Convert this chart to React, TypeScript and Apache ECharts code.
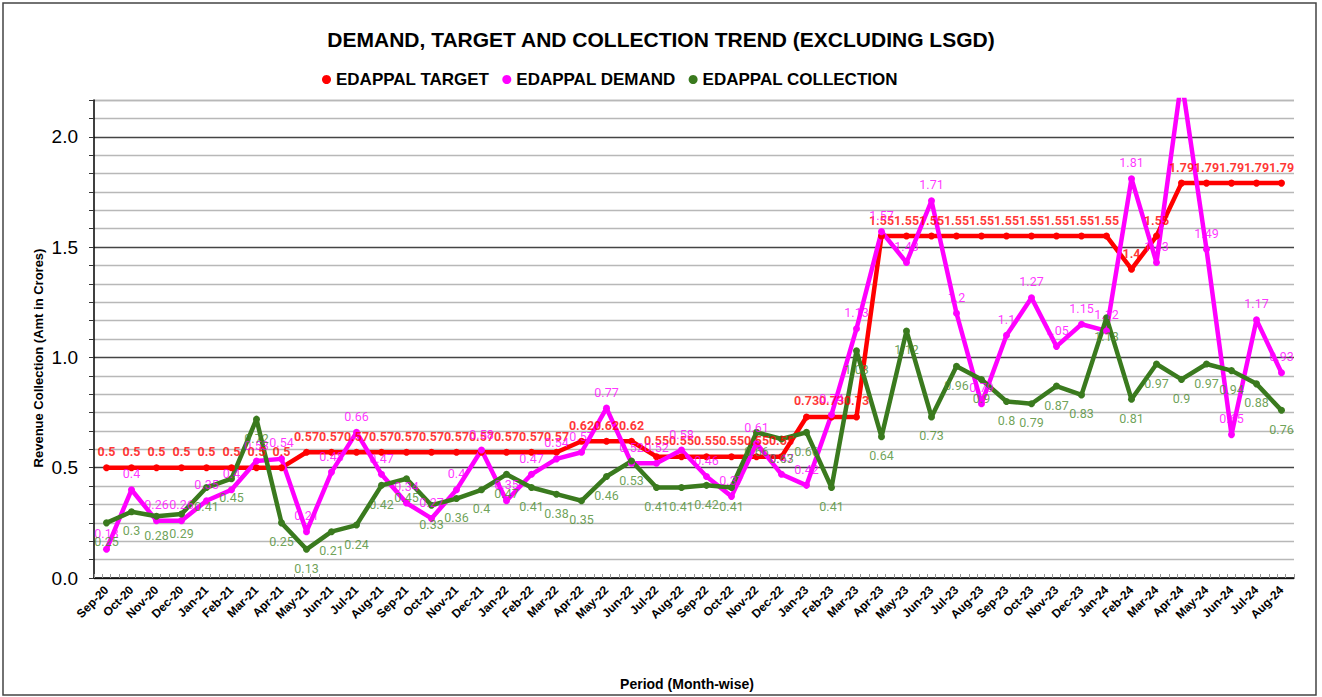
import React, { useEffect, useRef } from "react";
import * as echarts from "echarts";

const categories = [
  "Sep-20", "Oct-20", "Nov-20", "Dec-20", "Jan-21", "Feb-21", "Mar-21", "Apr-21",
  "May-21", "Jun-21", "Jul-21", "Aug-21", "Sep-21", "Oct-21", "Nov-21", "Dec-21",
  "Jan-22", "Feb-22", "Mar-22", "Apr-22", "May-22", "Jun-22", "Jul-22", "Aug-22",
  "Sep-22", "Oct-22", "Nov-22", "Dec-22", "Jan-23", "Feb-23", "Mar-23", "Apr-23",
  "May-23", "Jun-23", "Jul-23", "Aug-23", "Sep-23", "Oct-23", "Nov-23", "Dec-23",
  "Jan-24", "Feb-24", "Mar-24", "Apr-24", "May-24", "Jun-24", "Jul-24", "Aug-24",
];

const target = [
  0.5, 0.5, 0.5, 0.5, 0.5, 0.5, 0.5, 0.5,
  0.57, 0.57, 0.57, 0.57, 0.57, 0.57, 0.57, 0.57,
  0.57, 0.57, 0.57, 0.62, 0.62, 0.62, 0.55, 0.55,
  0.55, 0.55, 0.55, 0.55, 0.73, 0.73, 0.73, 1.55,
  1.55, 1.55, 1.55, 1.55, 1.55, 1.55, 1.55, 1.55,
  1.55, 1.4, 1.55, 1.79, 1.79, 1.79, 1.79, 1.79,
];

const demand = [
  0.13, 0.4, 0.26, 0.26, 0.35, 0.4, 0.53, 0.54,
  0.21, 0.48, 0.66, 0.47, 0.34, 0.27, 0.4, 0.58,
  0.35, 0.47, 0.54, 0.57, 0.77, 0.52, 0.52, 0.58,
  0.46, 0.37, 0.61, 0.47, 0.42, 0.74, 1.13, 1.57,
  1.43, 1.71, 1.2, 0.79, 1.1, 1.27, 1.05, 1.15,
  1.12, 1.81, 1.43, 2.26, 1.49, 0.65, 1.17, 0.93,
];

const collection = [
  0.25, 0.3, 0.28, 0.29, 0.41, 0.45, 0.72, 0.25,
  0.13, 0.21, 0.24, 0.42, 0.45, 0.33, 0.36, 0.4,
  0.47, 0.41, 0.38, 0.35, 0.46, 0.53, 0.41, 0.41,
  0.42, 0.41, 0.66, 0.63, 0.66, 0.41, 1.03, 0.64,
  1.12, 0.73, 0.96, 0.9, 0.8, 0.79, 0.87, 0.83,
  1.18, 0.81, 0.97, 0.9, 0.97, 0.94, 0.88, 0.76,
];

const majorTicks = [0, 0.5, 1, 1.5, 2];

const SANS = "'Liberation Sans', Arial, sans-serif";
const LABEL_FONT = "Roboto, 'Liberation Sans', sans-serif";

export default function App() {
  const ref = useRef<HTMLDivElement>(null);

  useEffect(() => {
    if (!ref.current) return;
    const chart = echarts.init(ref.current, undefined, { renderer: "svg" });
    const yMax = 2.1667;
    const isMajor = (v: number) => majorTicks.some((m) => Math.abs(m - v) < 1e-6);

    const lineSeries = (name: string, data: number[], color: string) => ({
      name,
      type: "line",
      data,
      xAxisIndex: 0,
      color,
      z: 2,
      lineStyle: { width: 4.5, color },
      itemStyle: { color },
      symbol: "circle",
      symbolSize: 7,
      label: { show: false },
    });

    const labelSeries = (
      data: number[],
      color: string,
      position: string,
      distance: number,
      bold: boolean
    ) => ({
      type: "scatter",
      name: "labels-" + color,
      data: data.map((v) => (v > yMax ? { value: v, label: { show: false } } : v)),
      xAxisIndex: 0,
      z: 6,
      symbol: "circle",
      symbolSize: 1,
      itemStyle: { color: "rgba(0,0,0,0)" },
      silent: true,
      label: {
        show: true,
        position,
        distance,
        color,
        fontWeight: bold ? "bold" : "normal",
        fontSize: 12.5,
        fontFamily: LABEL_FONT,
      },
    });

    chart.setOption({
      animation: false,
      backgroundColor: "#ffffff",
      title: {
        text: "DEMAND, TARGET AND COLLECTION TREND (EXCLUDING LSGD)",
        left: "center",
        top: 29,
        padding: 0,
        textStyle: { fontSize: 21, fontWeight: "bold", color: "#000", fontFamily: SANS },
      },
      legend: {
        data: ["EDAPPAL TARGET", "EDAPPAL DEMAND", "EDAPPAL COLLECTION"],
        left: 322,
        top: 71,
        padding: 0,
        icon: "circle",
        itemWidth: 9,
        itemHeight: 9,
        itemGap: 13,
        textStyle: { fontSize: 17, fontWeight: "bold", color: "#000", fontFamily: SANS },
      },
      grid: { left: 94, right: 28, top: 100, bottom: 119, containLabel: false },
      xAxis: [
        {
          type: "category",
          data: categories,
          boundaryGap: true,
          axisLine: { show: true, lineStyle: { color: "#000", width: 1.5 } },
          axisTick: { show: false },
          axisLabel: {
            rotate: 45,
            interval: 0,
            margin: 10,
            fontSize: 12,
            fontWeight: "bold",
            color: "#000",
            fontFamily: SANS,
          },
          splitLine: { show: false },
        },
        {
          type: "value",
          min: 1 / 6,
          max: 48 + 1 / 6,
          interval: 1 / 3,
          position: "bottom",
          axisLine: { show: false },
          axisLabel: { show: false },
          splitLine: { show: false },
          axisTick: { show: true, inside: true, length: 4, lineStyle: { color: "#999", width: 1 } },
        },
      ],
      yAxis: {
        type: "value",
        min: 0,
        max: yMax,
        interval: 1 / 12,
        axisLine: { show: true, lineStyle: { color: "#000", width: 1.5 } },
        axisTick: { show: true, length: 5, lineStyle: { color: "#333", width: 1 } },
        axisLabel: {
          fontSize: 19,
          color: "#000",
          fontFamily: SANS,
          margin: 16,
          formatter: (v: number) => (isMajor(v) ? v.toFixed(1) : ""),
        },
        splitLine: {
          show: true,
          lineStyle: {
            color: ["#444", "#b8b8b8", "#b8b8b8", "#b8b8b8", "#b8b8b8", "#b8b8b8"],
            width: 1.3,
          },
        },
      },
      graphic: [
        {
          type: "rect",
          shape: { x: 3, y: 3, width: 1313, height: 692 },
          style: { fill: "none", stroke: "#444", lineWidth: 1.5 },
          silent: true,
        },
        {
          type: "text",
          x: 38,
          y: 358,
          rotation: Math.PI / 2,
          style: {
            text: "Revenue Collection (Amt in Crores)",
            fontSize: 13,
            fontWeight: "bold",
            fill: "#000",
            fontFamily: SANS,
            align: "center",
            verticalAlign: "middle",
          },
        },
        {
          type: "text",
          x: 687,
          y: 684,
          style: {
            text: "Period (Month-wise)",
            fontSize: 14,
            fontWeight: "bold",
            fill: "#000",
            fontFamily: SANS,
            align: "center",
            verticalAlign: "middle",
          },
        },
      ],
      series: [
        lineSeries("EDAPPAL TARGET", target, "#ff0000"),
        lineSeries("EDAPPAL DEMAND", demand, "#ff00ff"),
        lineSeries("EDAPPAL COLLECTION", collection, "#3a7a1e"),
        labelSeries(target, "#ff0000", "top", 9, true),
        labelSeries(demand, "#ff00ff", "top", 9, false),
        labelSeries(collection, "#4a8a2c", "bottom", 12, false),
      ],
    });

    return () => chart.dispose();
  }, []);

  return (
    <div
      ref={ref}
      style={{ position: "fixed", left: 0, top: 0, width: 1322, height: 697, background: "#fff" }}
    />
  );
}
